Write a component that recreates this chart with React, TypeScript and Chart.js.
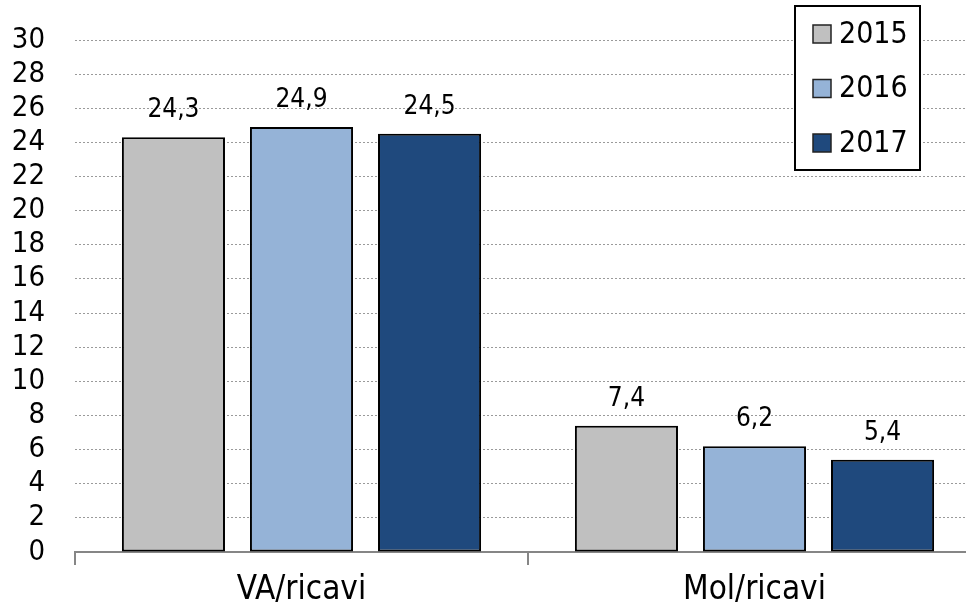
import React, { useEffect, useRef } from "react";
import { Chart, registerables } from "chart.js";

Chart.register(...registerables);

const categories = ["VA/ricavi", "Mol/ricavi"];
const seriesNames = ["2015", "2016", "2017"];
const values2015 = [24.3, 7.4];
const values2016 = [24.9, 6.2];
const values2017 = [24.5, 5.4];
const seriesColors = ["#C0C0C0", "#95B3D7", "#1F497D"];
const yMin = 0;
const yMax = 30;
const yStep = 2;

const FONT = "'DejaVu Sans Condensed', 'DejaVu Sans', sans-serif";

const fmt = (v: number) => v.toFixed(1).replace(".", ",");

const dataLabelPlugin = {
  id: "dataLabels",
  afterDatasetsDraw(chart: any) {
    const ctx = chart.ctx;
    ctx.save();
    ctx.font = `26px ${FONT}`;
    ctx.fillStyle = "#000";
    ctx.textAlign = "center";
    ctx.textBaseline = "alphabetic";
    chart.data.datasets.forEach((ds: any, i: number) => {
      const meta = chart.getDatasetMeta(i);
      meta.data.forEach((el: any, j: number) => {
        ctx.fillText(fmt(ds.data[j]), el.x, el.y - 20);
      });
    });
    ctx.restore();
  },
};

const legendPlugin = {
  id: "boxLegend",
  afterDraw(chart: any) {
    const ctx = chart.ctx;
    ctx.save();
    const bx = 795, by = 6, bw = 125, bh = 164;
    ctx.fillStyle = "#fff";
    ctx.fillRect(bx, by, bw, bh);
    ctx.strokeStyle = "#000";
    ctx.lineWidth = 2;
    ctx.strokeRect(bx, by, bw, bh);
    ctx.font = `30px ${FONT}`;
    ctx.textAlign = "left";
    ctx.textBaseline = "middle";
    chart.data.datasets.forEach((ds: any, i: number) => {
      const cy = 34 + i * 54.5;
      ctx.fillStyle = ds.backgroundColor;
      ctx.fillRect(813, cy - 9, 18, 18);
      ctx.strokeStyle = "#222";
      ctx.lineWidth = 1.5;
      ctx.strokeRect(813, cy - 9, 18, 18);
      ctx.fillStyle = "#000";
      ctx.fillText(ds.label, 839, cy + 1);
    });
    ctx.restore();
  },
};

export default function App() {
  const ref = useRef<HTMLCanvasElement | null>(null);
  useEffect(() => {
    if (!ref.current) return;
    const seriesValues = [values2015, values2016, values2017];
    const chart = new Chart(ref.current, {
      type: "bar",
      data: {
        labels: categories,
        datasets: seriesNames.map((name, i) => ({
          label: name,
          data: seriesValues[i],
          backgroundColor: seriesColors[i],
          borderColor: "#000",
          borderWidth: 2,
          borderSkipped: false,
          categoryPercentage: 0.848,
          barPercentage: 0.805,
        })),
      },
      options: {
        animation: false,
        responsive: false,
        devicePixelRatio: 1,
        layout: { padding: { top: 40, right: 19, left: 0, bottom: 0 } },
        plugins: {
          legend: { display: false },
          tooltip: { enabled: false },
        },
        scales: {
          x: {
            grid: {
              display: true,
              offset: true,
              drawOnChartArea: false,
              drawTicks: true,
              tickLength: 13,
              color: "#868686",
              lineWidth: 2,
            },
            border: { display: true, color: "#868686", width: 2 },
            ticks: {
              color: "#000",
              font: { family: FONT, size: 33 },
              padding: 6,
            },
            afterFit: (scale: any) => {
              scale.height = 55;
            },
          },
          y: {
            min: yMin,
            max: yMax,
            grid: {
              drawTicks: false,
              color: "#9a9a9a",
              lineWidth: 1,
            },
            border: { display: false, dash: [2, 2] },
            ticks: {
              stepSize: yStep,
              autoSkip: false,
              color: "#000",
              font: { family: FONT, size: 29 },
              padding: 30,
            },
            afterFit: (scale: any) => {
              scale.width = 75;
              scale.paddingTop = 0;
              scale.paddingBottom = 0;
            },
          },
        },
      },
      plugins: [dataLabelPlugin, legendPlugin],
    } as any);
    return () => chart.destroy();
  }, []);
  return (
    <div
      style={{
        position: "fixed",
        left: 0,
        top: 0,
        width: 966,
        height: 607,
        overflow: "hidden",
        background: "#fff",
      }}
    >
      <canvas ref={ref} width={1000} height={607} style={{ width: 1000, height: 607 }} />
    </div>
  );
}
